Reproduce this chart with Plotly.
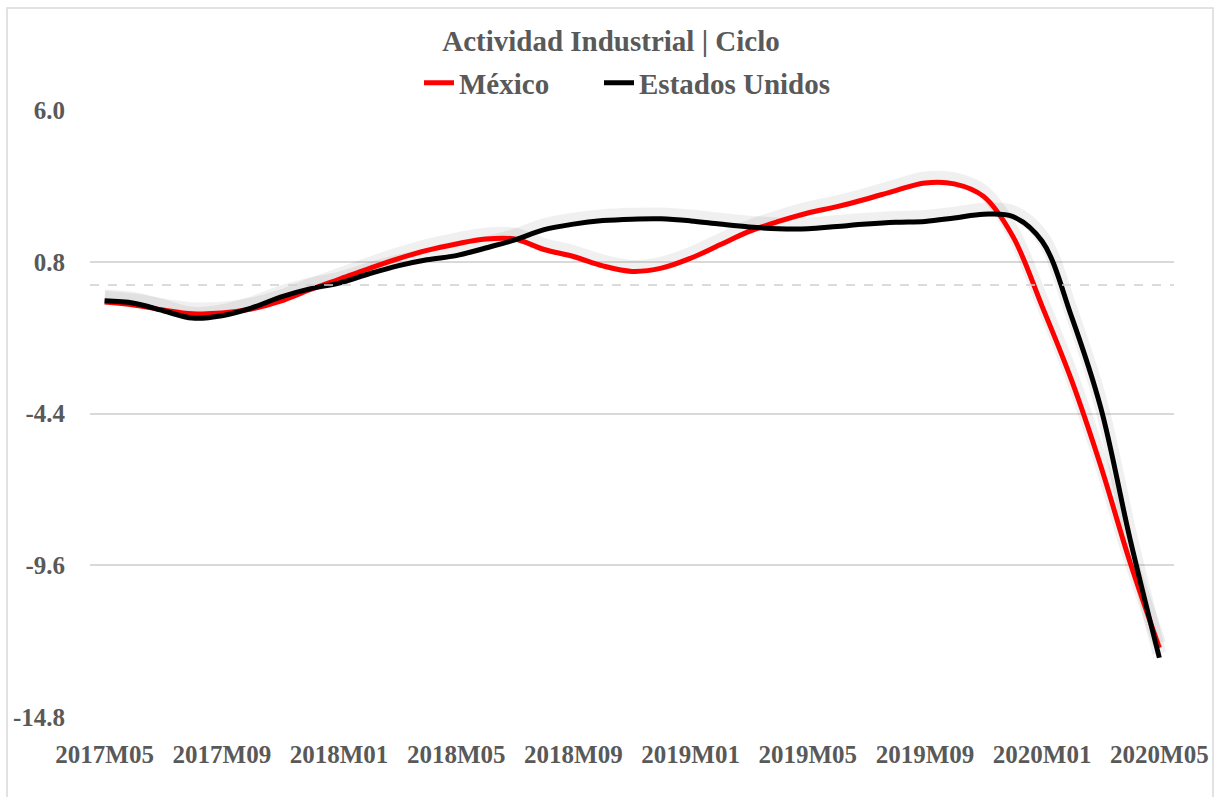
import plotly.graph_objects as go

# monthly periods 2017M05 .. 2020M05
periods = [f"{y}M{m:02d}" for y, m in
           [(2017 + (4 + k) // 12, (4 + k) % 12 + 1) for k in range(37)]]

mexico = [-0.58, -0.68, -0.85, -0.98, -0.96, -0.82, -0.55, -0.16, 0.20, 0.56,
          0.90, 1.19, 1.41, 1.58, 1.58, 1.22, 0.98, 0.66, 0.47, 0.58,
          0.92, 1.38, 1.84, 2.18, 2.47, 2.69, 2.95, 3.24, 3.50, 3.47,
          3.04, 1.67, -0.73, -3.25, -6.20, -9.50, -12.43]

usa = [-0.54, -0.62, -0.88, -1.13, -1.05, -0.79, -0.41, -0.13, 0.07, 0.38,
       0.66, 0.87, 1.01, 1.27, 1.55, 1.90, 2.09, 2.21, 2.26, 2.27,
       2.20, 2.09, 1.99, 1.93, 1.93, 2.01, 2.09, 2.15, 2.18, 2.30,
       2.43, 2.35, 1.50, -1.07, -4.20, -8.70, -12.77]

tick_idx = list(range(0, 37, 4))
tick_text = [periods[i] for i in tick_idx]
y_ticks = [6.0, 0.8, -4.4, -9.6, -14.8]
y_text = ["6.0", "0.8", "-4.4", "-9.6", "-14.8"]

FONT = "Liberation Serif"
GREY = "#595959"

x = list(range(len(periods)))
fig = go.Figure()

# soft shadow behind each line
for vals in (mexico, usa):
    fig.add_trace(go.Scatter(
        x=x, y=[v + 0.15 for v in vals], mode="lines",
        line=dict(color="rgba(0,0,0,0.06)", width=14, shape="spline"),
        showlegend=False, hoverinfo="skip"))

fig.add_trace(go.Scatter(x=x, y=mexico, name="México", mode="lines",
                         legend="legend",
                         line=dict(color="#ff0000", width=5, shape="spline")))
fig.add_trace(go.Scatter(x=x, y=usa, name="Estados Unidos", mode="lines",
                         legend="legend2",
                         line=dict(color="#000000", width=5, shape="spline")))

# dashed line at zero
fig.add_hline(y=0, line=dict(color="#d0d0d0", width=1.5, dash="dash"))

# outer chart border
fig.add_shape(type="rect", xref="paper", yref="paper",
              x0=(7 - 90) / 1084, x1=(1213 - 90) / 1084,
              y0=(717 - 800) / 607, y1=(717 - 8) / 607,
              line=dict(color="#d9d9d9", width=1.5))

legend_style = dict(orientation="h", xref="container", xanchor="left",
                    y=1 - 83 / 797, yref="container", yanchor="middle",
                    font=dict(family=FONT, size=29, color=GREY, weight="bold"),
                    bgcolor="rgba(0,0,0,0)")

fig.update_layout(
    width=1222, height=797,
    margin=dict(l=90, r=48, t=110, b=80, autoexpand=False),
    paper_bgcolor="white", plot_bgcolor="white",
    font=dict(family=FONT, color=GREY, size=22),
    title=dict(text="<b>Actividad Industrial | Ciclo</b>", x=0.5, xref="container",
               xanchor="center", y=1 - 41 / 797, yanchor="middle",
               font=dict(family=FONT, size=29, color=GREY)),
    legend=dict(x=419 / 1222, **legend_style),
    legend2=dict(x=599 / 1222, **legend_style),
    showlegend=True,
)

fig.update_xaxes(range=[-0.5, 36.5], tickmode="array", tickvals=tick_idx,
                 ticktext=tick_text, showgrid=False, zeroline=False,
                 showline=False, ticks="", automargin=False,
                 ticklabelstandoff=20,
                 tickfont=dict(family=FONT, size=25, color=GREY, weight="bold"))
fig.update_yaxes(range=[-14.8, 6.0], tickmode="array", tickvals=y_ticks,
                 ticktext=y_text, showgrid=True, gridcolor="#d9d9d9",
                 gridwidth=1.5, zeroline=False, showline=False, ticks="",
                 automargin=False, ticklabelstandoff=24,
                 tickfont=dict(family=FONT, size=25, color=GREY, weight="bold"))

fig.write_html("out.html", config={"displayModeBar": False},
               post_script="document.body.style.margin='0';")
